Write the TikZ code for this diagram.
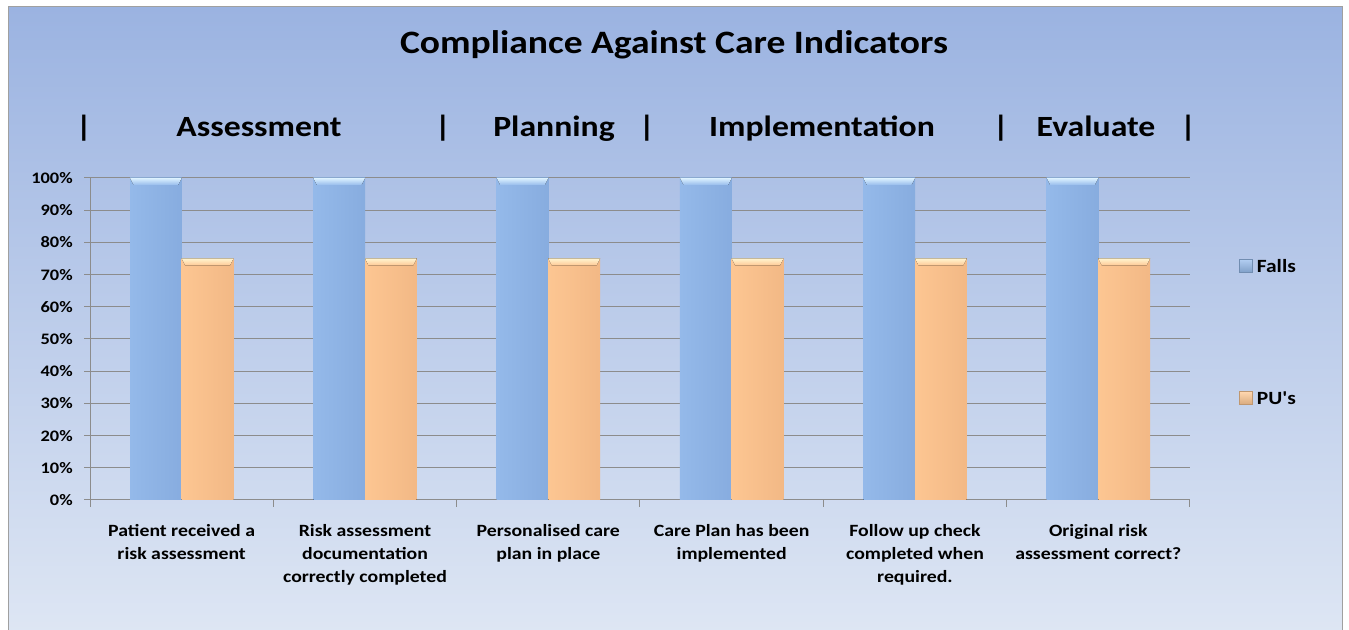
\documentclass[tikz,border=0pt]{standalone}
\usepackage{fontspec}
\setmainfont{Carlito}[Ligatures=TeXOff]
\usetikzlibrary{positioning}
\definecolor{bgtop}{HTML}{9BB3E1}
\definecolor{bgbot}{HTML}{DFE7F4}
\definecolor{framegray}{HTML}{A0A0A0}
\definecolor{gridgray}{HTML}{8C8C8C}
\definecolor{fallsfill}{HTML}{97BCEC}
\definecolor{fallsdark}{HTML}{7499CF}
\definecolor{fallscap}{HTML}{DDF2FF}
\definecolor{pusfill}{HTML}{FFC995}
\definecolor{pusdark}{HTML}{E3A472}
\definecolor{puscap}{HTML}{FFF4CF}
\tikzset{
  txt/.style={font=\bfseries, xscale=1.15, inner sep=0pt},
  titletxt/.style={txt, font=\bfseries\fontsize{24.5}{28}\selectfont},
  headtxt/.style={txt, font=\bfseries\fontsize{22}{26}\selectfont},
  axistxt/.style={txt, font=\bfseries\fontsize{12}{14}\selectfont},
  cattxt/.style={txt, font=\bfseries\fontsize{12.9}{17.2}\selectfont, align=center},
  legtxt/.style={txt, font=\bfseries\fontsize{14}{16}\selectfont},
  fallsbar/.style={left color=fallsfill!92!fallsdark, middle color=fallsfill, right color=fallsfill!55!fallsdark},
  pusbar/.style={left color=pusfill!92!pusdark, middle color=pusfill, right color=pusfill!55!pusdark},
  legbox/.style={minimum size=9.5pt, inner sep=0pt, draw=#1!75!black, line width=0.3pt, top color=#1!75!white, bottom color=#1!85!black}
}
\begin{document}
\begin{tikzpicture}[x=0.75pt,y=-0.75pt]
\useasboundingbox (0,0) rectangle (1349,630);
\draw[framegray, top color=bgtop, bottom color=bgbot, line width=0.75pt] (8,7) rectangle (1342,645);
\node[titletxt, anchor=base] (title) at (674,54) {Compliance Against Care Indicators};
\node[headtxt, anchor=base] (assess) at (259,137) {Assessment};
\node[headtxt, anchor=base] (plan) at (554,137) {Planning};
\node[headtxt, anchor=base] (impl) at (822,137) {Implementation};
\node[headtxt, anchor=base] (eval) at (1096,137) {Evaluate};
\foreach \x [count=\n] in {84,443,647,1001,1188}
  \node[headtxt, anchor=base] (sep\n) at (\x,137) {|};
\foreach \v in {0,10,...,100} {
  \draw[gridgray, line width=0.75pt] (84,500-3.22*\v) -- (1190,500-3.22*\v);
  \node[axistxt, anchor=east] (y\v) at (73,500-3.22*\v) {\v\%};
}
\draw[gridgray, line width=0.75pt] (90,178) -- (90,500);
\foreach \i in {0,...,6}
  \draw[gridgray, line width=0.75pt] (90+183.33*\i,500) -- ++(0,7);
\foreach \i in {0,...,5} {
  \pgfmathsetmacro\xl{130+183.33*\i}
  \fill[fallsbar] (\xl,500) rectangle ++(51.7,-322);
  \fill[top color=fallscap, bottom color=fallsfill] (\xl,178) -- ++(51.7,0) -- ++(-3.5,7) -- ++(-44.7,0) -- cycle;
  \fill[pusbar] (\xl+51.7,500) rectangle ++(51.7,-241.5);
  \fill[top color=puscap, bottom color=pusfill] (\xl+51.7,258.5) -- ++(51.7,0) -- ++(-3.5,7) -- ++(-44.7,0) -- cycle;
}
\foreach \t [count=\n] in {{Patient received a\\risk assessment},
    {Risk assessment\\documentation\\correctly completed},
    {Personalised care\\plan in place},
    {Care Plan has been\\implemented},
    {Follow up check\\completed when\\required.},
    {Original risk\\assessment correct?}}
  \node[cattxt, anchor=north] (cat\n) at (181.67+183.33*\n-183.33,524) {\t};
\node[legbox=fallsfill] (fallskey) at (1246,266) {};
\node[legtxt, right=3pt of fallskey] (fallslbl) {Falls};
\node[legbox=pusfill] (puskey) at (1246,398) {};
\node[legtxt, right=3pt of puskey] (puslbl) {PU's};
\end{tikzpicture}
\end{document}
